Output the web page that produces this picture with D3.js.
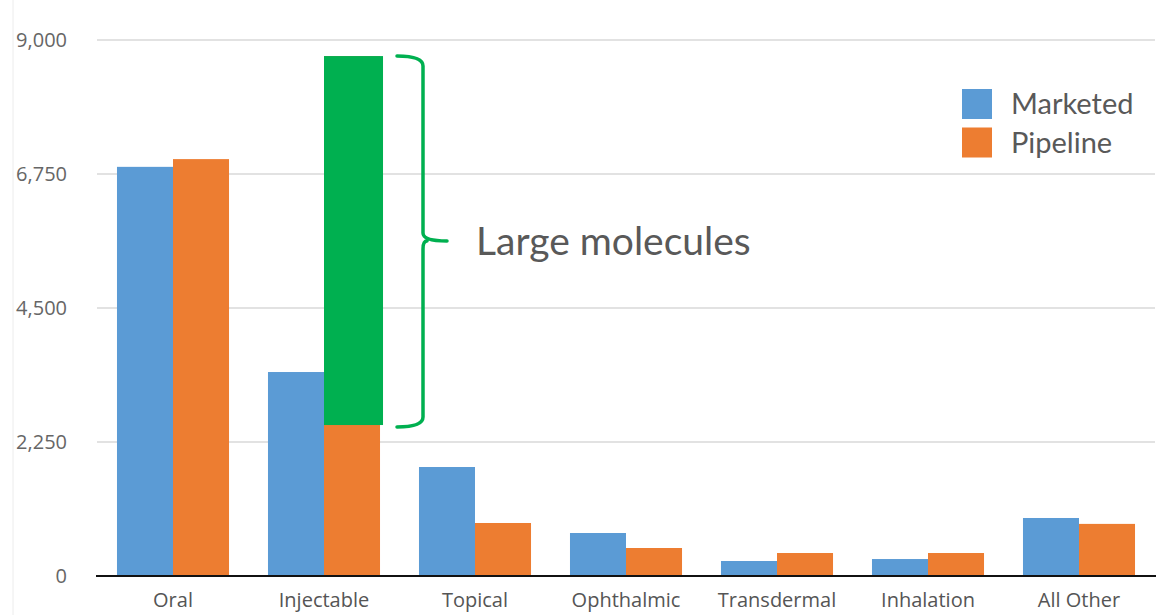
<!DOCTYPE html>
<html>
<head>
<meta charset="utf-8">
<script src="https://cdn.jsdelivr.net/npm/d3@7"></script>
<style>
  body { margin: 0; background: #fff; }
  svg { display: block; }
</style>
</head>
<body>
<div id="chart"></div>
<script>
// data
const categories = ["Oral", "Injectable", "Topical", "Ophthalmic", "Transdermal", "Inhalation", "All Other"];
const marketed = [6870, 3425, 1830, 722, 252, 285, 974];
const pipeline = [7000, 8730, 890, 470, 386, 386, 875];
const seriesNames = ["Marketed", "Pipeline"];
const yTicks = [0, 2250, 4500, 6750, 9000];
// large molecule share of injectable pipeline
const largeMolecules = {category: "Injectable", from: 2535, to: 8730, label: "Large molecules"};

const colors = {Marketed: "#5B9BD5", Pipeline: "#ED7D31"};
const green = "#00B050";

const width = 1159, height = 615;

const svg = d3.select("#chart")
  .append("svg")
    .attr("width", width)
    .attr("height", height);

// faint frame line at left
svg.append("line")
  .attr("x1", 13).attr("x2", 13)
  .attr("y1", 0).attr("y2", height)
  .attr("stroke", "#ececec");

var y = d3.scaleLinear()
  .domain([0, 9000])
  .range([576, 40]);

var x = d3.scaleBand()
  .domain(categories)
  .range([97.5, 1154.5])
  .paddingInner(0.258)
  .paddingOuter(0.129);

var xInner = d3.scaleBand()
  .domain(seriesNames)
  .range([0, x.bandwidth()]);

// gridlines
svg.append("g")
  .selectAll("line")
  .data(yTicks.filter(d => d > 0))
  .enter()
  .append("line")
    .attr("x1", 97)
    .attr("x2", 1155)
    .attr("y1", d => y(d))
    .attr("y2", d => y(d))
    .attr("stroke", "#d9d9d9")
    .attr("stroke-width", 1.5);

// y tick labels
svg.append("g")
  .selectAll("text")
  .data(yTicks)
  .enter()
  .append("text")
    .attr("x", 67)
    .attr("y", d => y(d))
    .attr("dy", "0.36em")
    .attr("text-anchor", "end")
    .style("font-family", "'Open Sans', sans-serif")
    .style("font-size", "20px")
    .style("fill", "#666")
    .text(d => d3.format(",")(d));

// bars
const rows = categories.map((c, i) => ({category: c, Marketed: marketed[i], Pipeline: pipeline[i]}));

var groups = svg.append("g")
  .selectAll("g")
  .data(rows)
  .enter()
  .append("g")
    .attr("transform", d => `translate(${x(d.category)},0)`);

groups.selectAll("rect")
  .data(d => seriesNames.map(s => ({series: s, value: d[s]})))
  .enter()
  .append("rect")
    .attr("x", d => xInner(d.series))
    .attr("width", xInner.bandwidth())
    .attr("y", d => y(d.value))
    .attr("height", d => y(0) - y(d.value))
    .attr("fill", d => colors[d.series]);

// green overlay + brace
const gx = x(largeMolecules.category) + xInner("Pipeline");
svg.append("rect")
  .attr("x", gx)
  .attr("width", xInner.bandwidth() + 3)
  .attr("y", y(largeMolecules.to))
  .attr("height", y(largeMolecules.from) - y(largeMolecules.to))
  .attr("fill", green);

const braceTop = y(largeMolecules.to), braceBot = y(largeMolecules.from) + 2;
const mid = 241;
const bx0 = 397, bx = 423, tip = 447;
const brace = `M${bx0},${braceTop} Q${bx},${braceTop} ${bx},${braceTop + 10} L${bx},${mid - 8} Q${bx},${mid} ${tip},${mid} ` +
  `M${tip - 20},${mid} Q${bx},${mid} ${bx},${mid + 8} L${bx},${braceBot - 10} Q${bx},${braceBot} ${bx0},${braceBot}`;
svg.append("path")
  .attr("d", brace)
  .attr("fill", "none")
  .attr("stroke", green)
  .attr("stroke-width", 3.5)
  .attr("stroke-linecap", "round");

svg.append("text")
  .attr("x", 476)
  .attr("y", 255)
  .style("font-family", "Lato, sans-serif")
  .style("font-size", "39px")
  .style("fill", "#595959")
  .text(largeMolecules.label);

// x axis line
svg.append("line")
  .attr("x1", 96).attr("x2", 1156)
  .attr("y1", y(0)).attr("y2", y(0))
  .attr("stroke", "#111")
  .attr("stroke-width", 2);

// x labels
svg.append("g")
  .selectAll("text")
  .data(categories)
  .enter()
  .append("text")
    .attr("x", d => x(d) + x.bandwidth() / 2)
    .attr("y", 607)
    .attr("text-anchor", "middle")
    .style("font-family", "'Open Sans', sans-serif")
    .style("font-size", "20px")
    .style("fill", "#555")
    .text(d => d);

// legend
var legend = svg.append("g")
  .selectAll("g")
  .data(seriesNames)
  .enter()
  .append("g")
    .attr("transform", (d, i) => `translate(962,${89 + i * 38.5})`);

legend.append("rect")
  .attr("width", 30)
  .attr("height", 30)
  .attr("fill", d => colors[d]);

legend.append("text")
  .attr("x", 49)
  .attr("y", 15)
  .attr("dy", "0.36em")
  .style("font-family", "Lato, sans-serif")
  .style("font-size", "29px")
  .style("fill", "#595959")
  .text(d => d);
</script>
</body>
</html>
